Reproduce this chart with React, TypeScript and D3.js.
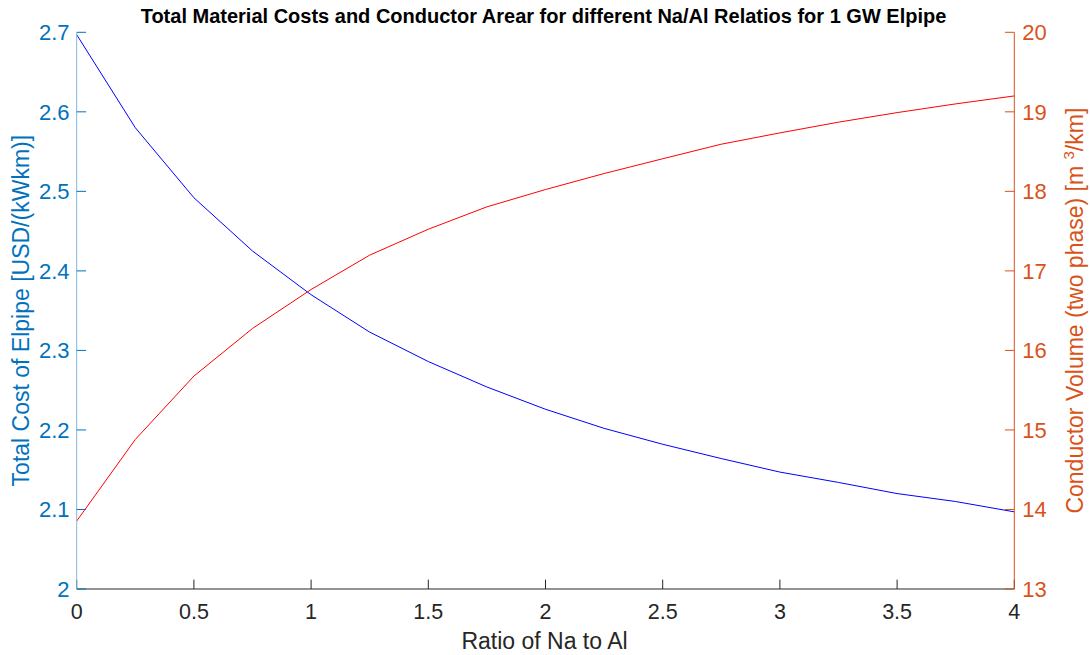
import React from 'react';
import * as d3 from 'd3';

// Na/Al ratio sampled every 0.25
const ratios = [0, 0.25, 0.5, 0.75, 1, 1.25, 1.5, 1.75, 2, 2.25, 2.5, 2.75, 3, 3.25, 3.5, 3.75, 4];
// total cost [USD/(kWkm)] - left axis
const costs = [2.697, 2.58, 2.492, 2.425, 2.37, 2.323, 2.286, 2.254, 2.226, 2.202, 2.182, 2.164, 2.147, 2.134, 2.12, 2.11, 2.097];
// conductor volume [m3/km] - right axis
const volumes = [13.855, 14.88, 15.677, 16.276, 16.766, 17.198, 17.524, 17.805, 18.023, 18.224, 18.41, 18.593, 18.735, 18.87, 18.99, 19.1, 19.2];

const xTicks = [0, 0.5, 1, 1.5, 2, 2.5, 3, 3.5, 4];
const leftTicks = [2, 2.1, 2.2, 2.3, 2.4, 2.5, 2.6, 2.7];
const rightTicks = [13, 14, 15, 16, 17, 18, 19, 20];

const W = 1090;
const H = 655;
const LEFT = 76.7;
const RIGHT = 1014.3;
const TOP = 32.3;
const BOTTOM = 589;
const TICK = 9.4;

const BLUE_AX = '#0072BD';
const ORANGE_AX = '#D95319';
const GREY = '#262626';
const FONT = '"Liberation Sans", Arial, Helvetica, sans-serif';

export default function App() {
  const x = d3.scaleLinear().domain([0, 4]).range([LEFT, RIGHT]);
  const yL = d3.scaleLinear().domain([2, 2.7]).range([BOTTOM, TOP]);
  const yR = d3.scaleLinear().domain([13, 20]).range([BOTTOM, TOP]);

  const costLine = d3.line<number>().x((_, i) => x(ratios[i])).y((d) => yL(d));
  const volLine = d3.line<number>().x((_, i) => x(ratios[i])).y((d) => yR(d));

  const fmt = (v: number) => String(+v.toFixed(1));

  return (
    <svg width={W} height={H} style={{ position: 'absolute', left: 0, top: 0, background: '#fff' }} fontFamily={FONT}>
      <rect width={W} height={H} fill="#fff" />

      {/* data */}
      <path d={costLine(costs) || ''} fill="none" stroke="#0000FF" strokeWidth={1} />
      <path d={volLine(volumes) || ''} fill="none" stroke="#FF0000" strokeWidth={1} />

      {/* x axis */}
      <line x1={LEFT} x2={RIGHT} y1={BOTTOM} y2={BOTTOM} stroke={GREY} strokeWidth={1} />
      {xTicks.map((t) => (
        <g key={`xt-${t}`}>
          <line x1={x(t)} x2={x(t)} y1={BOTTOM} y2={BOTTOM - TICK} stroke={GREY} />
          <text x={x(t)} y={619} textAnchor="middle" fontSize={21.5} fill={GREY}>{fmt(t)}</text>
        </g>
      ))}
      <text x={544.5} y={649} textAnchor="middle" fontSize={23} fill={GREY}>Ratio of Na to Al</text>

      {/* left axis */}
      <line x1={LEFT} x2={LEFT} y1={TOP} y2={BOTTOM} stroke="#7fb8de" strokeWidth={1} />
      {leftTicks.map((t) => (
        <g key={`lt-${t}`}>
          <line x1={LEFT} x2={LEFT + TICK} y1={yL(t)} y2={yL(t)} stroke={BLUE_AX} />
          <text x={69.5} y={yL(t) + 8} textAnchor="end" fontSize={22} fill={BLUE_AX}>{fmt(t)}</text>
        </g>
      ))}
      <text transform={`translate(29,${(TOP + BOTTOM) / 2}) rotate(-90)`} textAnchor="middle" fontSize={23} fill={BLUE_AX}>
        Total Cost of Elpipe [USD/(kWkm)]
      </text>

      {/* right axis */}
      <line x1={RIGHT} x2={RIGHT} y1={TOP} y2={BOTTOM} stroke={ORANGE_AX} strokeWidth={1} />
      {rightTicks.map((t) => (
        <g key={`rt-${t}`}>
          <line x1={RIGHT} x2={RIGHT - TICK} y1={yR(t)} y2={yR(t)} stroke={ORANGE_AX} />
          <text x={1022.3} y={yR(t) + 8} textAnchor="start" fontSize={22} fill={ORANGE_AX}>{t}</text>
        </g>
      ))}
      <text transform={`translate(1083,${(TOP + BOTTOM) / 2}) rotate(-90)`} textAnchor="middle" fontSize={23} fill={ORANGE_AX}>
        Conductor Volume (two phase) [m <tspan fontSize={15} dy={-9}>3</tspan><tspan dy={9}>/km]</tspan>
      </text>

      {/* title */}
      <text x={543.5} y={23.3} textAnchor="middle" fontSize={20} fontWeight="bold" fill="#000">
        Total Material Costs and Conductor Arear for different Na/Al Relatios for 1 GW Elpipe
      </text>
    </svg>
  );
}
